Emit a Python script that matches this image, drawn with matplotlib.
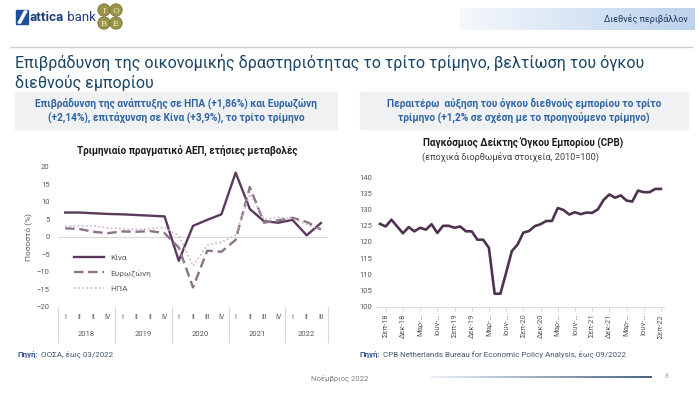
import numpy as np
import matplotlib.pyplot as plt
from matplotlib.patches import Rectangle, Circle, Polygon
from matplotlib.colors import LinearSegmentedColormap
from matplotlib.transforms import blended_transform_factory

plt.rcParams['font.family'] = ['Roboto', 'DejaVu Sans']

# --- left chart: quarterly real GDP, y/y change (%) ---
quarter_labels = ['I', 'II', 'II', 'IV', 'I', 'II', 'II', 'IV', 'I', 'II', 'III', 'IV',
                  'I', 'II', 'III', 'IV', 'I', 'II', 'III']
years = ['2018', '2019', '2020', '2021', '2022']
quarters_per_year = [4, 4, 4, 4, 3]
china = [6.9, 6.9, 6.7, 6.5, 6.4, 6.2, 6.0, 5.8, -6.9, 3.1, 4.8, 6.4,
         18.3, 7.9, 4.4, 4.0, 4.8, 0.4, 3.9]
eurozone = [2.4, 2.2, 1.4, 1.0, 1.5, 1.4, 1.6, 1.0, -3.1, -14.5, -4.0, -4.3,
            -0.9, 14.2, 4.0, 4.7, 5.4, 4.2, 2.1]
usa = [2.9, 3.1, 3.1, 2.5, 2.3, 2.0, 2.3, 2.6, 0.3, -8.4, -2.4, -1.6,
       0.5, 12.2, 5.0, 5.5, 5.2, 3.5, 1.9]

# --- right chart: CPB world trade volume (2010=100), Aug-18 .. Sep-22 ---
trade_index = [125.6, 124.8, 126.9, 124.8, 122.7, 124.6, 123.3, 124.4, 123.8, 125.5,
               122.8, 125.0, 125.0, 124.4, 124.8, 123.3, 123.3, 120.7, 120.7, 118.2,
               104.0, 104.0, 110.5, 117.2, 119.2, 122.9, 123.4, 124.9, 125.5, 126.5,
               126.5, 130.5, 129.9, 128.5, 129.2, 128.6, 129.1, 129.0, 130.1, 133.0,
               134.7, 133.7, 134.4, 132.8, 132.5, 135.9, 135.4, 135.4, 136.4, 136.4]
trade_ticklabels = ['Σεπ-18', 'Δεκ-18', 'Μαρ-…', 'Ιουν-…', 'Σεπ-19', 'Δεκ-19', 'Μαρ-…',
                    'Ιουν-…', 'Σεπ-20', 'Δεκ-20', 'Μαρ-…', 'Ιουν-…', 'Σεπ-21', 'Δεκ-21',
                    'Μαρ-…', 'Ιουν-…', 'Σεπ-22']

gray = '#595959'
W, H = 700, 394

fig = plt.figure(figsize=(7, 3.94), dpi=100)

# background layer in pixel coordinates
bg = fig.add_axes([0, 0, 1, 1], zorder=0)
bg.set_xlim(0, W)
bg.set_ylim(H, 0)
bg.axis('off')


def px_axes(x0, y0, x1, y1, z=1):
    return fig.add_axes([x0 / W, 1 - y1 / H, (x1 - x0) / W, (y1 - y0) / H], zorder=z)


def gradient(ax, c0, c1):
    cmap = LinearSegmentedColormap.from_list('g', [c0, c1])
    ax.imshow(np.linspace(0, 1, 256)[None, :], cmap=cmap, aspect='auto')
    ax.axis('off')


# header: logos, section tag, rule
bg.add_patch(Rectangle((16, 10), 12, 14, color='#1D4F9C'))
bg.add_patch(Polygon([[18, 23], [24.5, 11], [27, 11], [20.5, 23]], color='white'))
t = bg.text(30, 17.5, 'attica', fontsize=9.5, fontweight='bold', color='#1D3F7A', va='center')
bg.annotate(' bank', xy=(1, 0), xycoords=t, va='bottom', fontsize=9.5, color='#1D3F7A')
for (cx, cy), ch in zip([(104, 10), (116, 10), (104, 23), (116, 23)], 'IOBE'):
    bg.add_patch(Circle((cx, cy), 6.2, facecolor='#9A9448', edgecolor='#6F6A2E', lw=0.5))
    bg.text(cx, cy + 0.5, ch, ha='center', va='center', fontsize=6, color='#F3EED6',
            family='DejaVu Serif')

gradient(px_axes(460, 8, 695, 30, z=-1), '#F4F8FC', '#BCD2EC')
bg.text(688, 19.5, 'Διεθνές περιβάλλον', ha='right', va='center', fontsize=6.5, color='#1F3864')
bg.plot([10, 692], [47, 47], color='#CFCFCF', lw=1)

bg.text(15, 54, 'Επιβράδυνση της οικονομικής δραστηριότητας το τρίτο τρίμηνο, βελτίωση του όγκου\n'
        'διεθνούς εμπορίου', fontsize=11.5, color='#1B4565', va='top', linespacing=1.3)

# highlight boxes
bg.add_patch(Rectangle((15, 92), 322, 37, color='#F0F1F3'))
bg.add_patch(Rectangle((360, 92), 328, 37, color='#F0F1F3'))
bg.text(176, 110.5, 'Επιβράδυνση της ανάπτυξης σε ΗΠΑ (+1,86%) και Ευρωζώνη\n'
        '(+2,14%), επιτάχυνση σε Κίνα (+3,9%), το τρίτο τρίμηνο',
        ha='center', va='center', fontsize=7.3, fontweight='bold', color='#2F64A4', linespacing=1.4)
bg.text(524, 110.5, 'Περαιτέρω  αύξηση του όγκου διεθνούς εμπορίου το τρίτο\n'
        'τρίμηνο (+1,2% σε σχέση με το προηγούμενο τρίμηνο)',
        ha='center', va='center', fontsize=7.3, fontweight='bold', color='#2F64A4', linespacing=1.4)

bg.text(187, 150, 'Τριμηνιαίο πραγματικό ΑΕΠ, ετήσιες μεταβολές', ha='center', va='center',
        fontsize=7.1, fontweight='bold', color='#1A1A1A')
bg.text(523, 143, 'Παγκόσμιος Δείκτης Όγκου Εμπορίου (CPB)', ha='center', va='center',
        fontsize=7.1, fontweight='bold', color='#1A1A1A')
bg.text(510, 157, '(εποχικά διορθωμένα στοιχεία, 2010=100)', ha='center', va='center',
        fontsize=6.6, color='#404040')

# left chart
ax1 = px_axes(58, 166.7, 328, 306.7)
ax1.patch.set_alpha(0)
x = np.arange(len(china)) + 0.5
ax1.axhline(0, color='#D9D9D9', lw=0.8)
ax1.plot(x, china, color='#5A3A5C', lw=1.7, label='Κίνα')
ax1.plot(x, eurozone, color='#8C7389', lw=1.7, dashes=(4, 2), label='Ευρωζώνη')
ax1.plot(x, usa, color='#CDB5C9', lw=1.2, dashes=(1, 1.5), label='ΗΠΑ')
ax1.set_xlim(0, len(china))
ax1.set_ylim(-20, 20)
ax1.set_yticks(range(-20, 21, 5))
ax1.set_xticks([])
ax1.tick_params(axis='y', length=0, labelsize=5.5, labelcolor=gray, pad=6)
for s in ax1.spines.values():
    s.set_visible(False)
ax1.set_ylabel('Ποσοστό (%)', fontsize=6, color=gray)
ax1.yaxis.set_label_coords((32 - 58) / 270, 0.5)

trans = blended_transform_factory(ax1.transData, ax1.transAxes)
for i, q in enumerate(quarter_labels):
    ax1.text(i + 0.5, -0.075, q, transform=trans, ha='center', va='center', fontsize=5, color=gray)
bounds = np.concatenate([[0], np.cumsum(quarters_per_year)])
for b in bounds:
    ax1.plot([b, b], [0, -0.25], transform=trans, color='#D9D9D9', lw=0.8, clip_on=False)
for yr, a, b in zip(years, bounds[:-1], bounds[1:]):
    ax1.text((a + b) / 2, -0.195, yr, transform=trans, ha='center', va='center',
             fontsize=5.5, color=gray)

ax1.legend(loc='upper left', bbox_to_anchor=(0.03, 0.43), frameon=False, fontsize=6,
           handlelength=3.6, labelspacing=1.0, labelcolor=gray)

# right chart
ax2 = px_axes(377.1, 177.3, 663.8, 306.7)
ax2.patch.set_alpha(0)
ax2.plot(np.arange(len(trade_index)), trade_index, color='#4E3350', lw=1.9)
ax2.set_xlim(-0.5, len(trade_index) - 0.5)
ax2.set_ylim(100, 140)
ax2.set_yticks(range(100, 141, 5))
ax2.set_xticks(np.arange(1, len(trade_index), 3))
ax2.set_xticklabels(trade_ticklabels, rotation=90)
for k in ['left', 'right', 'top']:
    ax2.spines[k].set_visible(False)
ax2.spines['bottom'].set_color('#D9D9D9')
ax2.tick_params(axis='y', length=0, labelsize=5.5, labelcolor=gray, pad=3.5)
ax2.tick_params(axis='x', length=3, color='#D9D9D9', labelsize=5.5, labelcolor=gray, pad=2)

# sources and footer
t = bg.text(18, 355, 'Πηγή:', fontsize=5.8, fontweight='bold', color='#2F5597', va='center')
bg.annotate(' ΟΟΣΑ, έως 03/2022', xy=(1, 0), xycoords=t, va='bottom', fontsize=5.8, color='#44546A')
t = bg.text(360, 355, 'Πηγή:', fontsize=5.8, fontweight='bold', color='#2F5597', va='center')
bg.annotate(' CPB Netherlands Bureau for Economic Policy Analysis, έως 09/2022', xy=(1, 0),
            xycoords=t, va='bottom', fontsize=5.8, color='#44546A')

bg.text(340, 378, 'Νοέμβριος 2022', ha='center', va='center', fontsize=5.5, color='#7F7F7F')
gradient(px_axes(430, 376.3, 652, 377.8, z=-1), '#EEF2F7', '#4A6584')
bg.text(667, 377, '8', ha='center', va='center', fontsize=5, color='#B0B0B0')

fig.savefig('out.png', dpi=100)
